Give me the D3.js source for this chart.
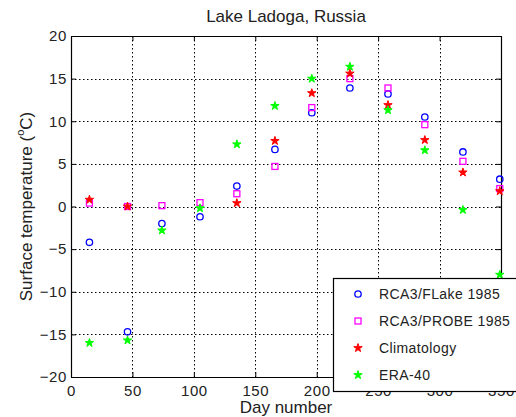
<!DOCTYPE html>
<html><head><meta charset="utf-8">
<script src="https://cdn.jsdelivr.net/npm/d3@7"></script>
<style>body{margin:0;background:#fff;} svg{display:block;font-family:"Liberation Sans",Arial,sans-serif;}</style>
</head><body>
<script>
const days = [15, 46, 74, 105, 135, 166, 196, 227, 258, 288, 319, 349];
const flake = [-4.2, -14.7, -2.0, -1.2, 2.4, 6.7, 11.0, 13.9, 13.2, 10.5, 6.4, 3.2];
const probe = [0.4, 0.0, 0.1, 0.45, 1.5, 4.7, 11.6, 15.0, 13.9, 9.6, 5.3, 2.1];
const clim = [0.8, 0.0, null, null, 0.4, 7.7, 13.3, 15.6, 11.9, 7.8, 4.0, 1.8];
const era = [-16.0, -15.7, -2.8, -0.2, 7.3, 11.8, 15.0, 16.4, 11.3, 6.6, -0.4, -8.0];
const xTicks = [0, 50, 100, 150, 200, 250, 300, 350];
const yTicks = [-20, -15, -10, -5, 0, 5, 10, 15, 20];
const seriesNames = ["RCA3/FLake 1985", "RCA3/PROBE 1985", "Climatology", "ERA-40"];

const W = 516, H = 417;
const L = 71, R = 501, T = 36, B = 377;
const svg = d3.select("body").append("svg").attr("width", W).attr("height", H);
const x = d3.scaleLinear().domain([0, 350]).range([L, R]);
const y = d3.scaleLinear().domain([-20, 20]).range([B, T]);
const txt = "#222";

// grid
const grid = svg.append("g").attr("stroke", "#000").attr("stroke-width", 1).attr("stroke-dasharray", "1.5,2.5");
grid.selectAll(".gx").data(xTicks.slice(1, -1)).join("line")
  .attr("x1", d => Math.round(x(d)) + 0.5).attr("x2", d => Math.round(x(d)) + 0.5).attr("y1", T).attr("y2", B);
grid.selectAll(".gy").data(yTicks.slice(1, -1)).join("line")
  .attr("y1", d => Math.round(y(d)) + 0.5).attr("y2", d => Math.round(y(d)) + 0.5).attr("x1", L).attr("x2", R);

// axes
const axB = svg.append("g").attr("transform", `translate(0,${B})`)
  .call(d3.axisBottom(x).tickValues(xTicks).tickSize(-5).tickPadding(8).tickSizeOuter(0));
const axL = svg.append("g").attr("transform", `translate(${L},0)`)
  .call(d3.axisLeft(y).tickValues(yTicks).tickSize(-5).tickPadding(4).tickSizeOuter(0)
    .tickFormat(d => d < 0 ? "\u2212" + Math.abs(d) : d));
const axT = svg.append("g").attr("transform", `translate(0,${T})`)
  .call(d3.axisTop(x).tickValues(xTicks).tickSize(-5).tickFormat("").tickSizeOuter(0));
const axR = svg.append("g").attr("transform", `translate(${R},0)`)
  .call(d3.axisRight(y).tickValues(yTicks).tickSize(-5).tickFormat("").tickSizeOuter(0));
[axB, axL, axT, axR].forEach(a => {
  a.selectAll("path.domain").attr("stroke", "#000").attr("stroke-width", 1.2);
  a.selectAll("text").attr("font-size", 15).attr("letter-spacing", 0.6).attr("fill", txt)
    .attr("font-family", "Liberation Sans, Arial, sans-serif");
});

// points
const series = [
  {vals: flake, type: "circle", color: "#0000ff"},
  {vals: probe, type: "square", color: "#ff00ff"},
  {vals: clim, type: "star", color: "#ff0000"},
  {vals: era, type: "star", color: "#00ff00"}
];
function drawMarker(g, s) {
  if (s.type === "circle") {
    g.append("circle").attr("r", 3.2).attr("fill", "none").attr("stroke", s.color).attr("stroke-width", 1.3);
  } else if (s.type === "square") {
    g.append("rect").attr("x", -3).attr("y", -3).attr("width", 6).attr("height", 6)
      .attr("fill", "none").attr("stroke", s.color).attr("stroke-width", 1.3);
  } else {
    g.append("path").attr("d", d3.symbol(d3.symbolStar, 22)()).attr("fill", s.color).attr("stroke", s.color).attr("stroke-width", 1);
  }
}
series.forEach(s => {
  const pts = days.map((d, i) => ({d, v: s.vals[i]})).filter(p => p.v !== null);
  svg.append("g").selectAll("g").data(pts).join("g")
    .attr("transform", p => `translate(${x(p.d)},${y(p.v)})`)
    .each(function() { drawMarker(d3.select(this), s); });
});

// title & labels
svg.append("text").attr("x", (L + R) / 2).attr("y", 22).attr("text-anchor", "middle")
  .attr("font-size", 17).attr("fill", txt).text("Lake Ladoga, Russia");
svg.append("text").attr("x", (L + R) / 2).attr("y", 413).attr("text-anchor", "middle")
  .attr("font-size", 17).attr("fill", txt).text("Day number");
const yl = svg.append("text").attr("transform", `translate(32,${(T + B) / 2}) rotate(-90)`)
  .attr("text-anchor", "middle").attr("font-size", 17).attr("fill", txt);
yl.append("tspan").text("Surface temperature (");
yl.append("tspan").attr("font-size", 11).attr("dy", -8).text("o");
yl.append("tspan").attr("dy", 8).text("C)");

// legend
const lg = svg.append("g");
lg.append("rect").attr("x", 333.5).attr("y", 278.5).attr("width", 200).attr("height", 113)
  .attr("fill", "#fff").attr("stroke", "#000").attr("stroke-width", 1.2);
const rowsY = [294, 321, 348, 375];
series.forEach((s, i) => {
  const g = lg.append("g").attr("transform", `translate(358,${rowsY[i]})`);
  drawMarker(g, s);
  lg.append("text").attr("x", 379).attr("y", rowsY[i]).attr("dy", "0.35em")
    .attr("font-size", 14).attr("letter-spacing", 0.4).attr("fill", txt).text(seriesNames[i]);
});
</script>
</body></html>
